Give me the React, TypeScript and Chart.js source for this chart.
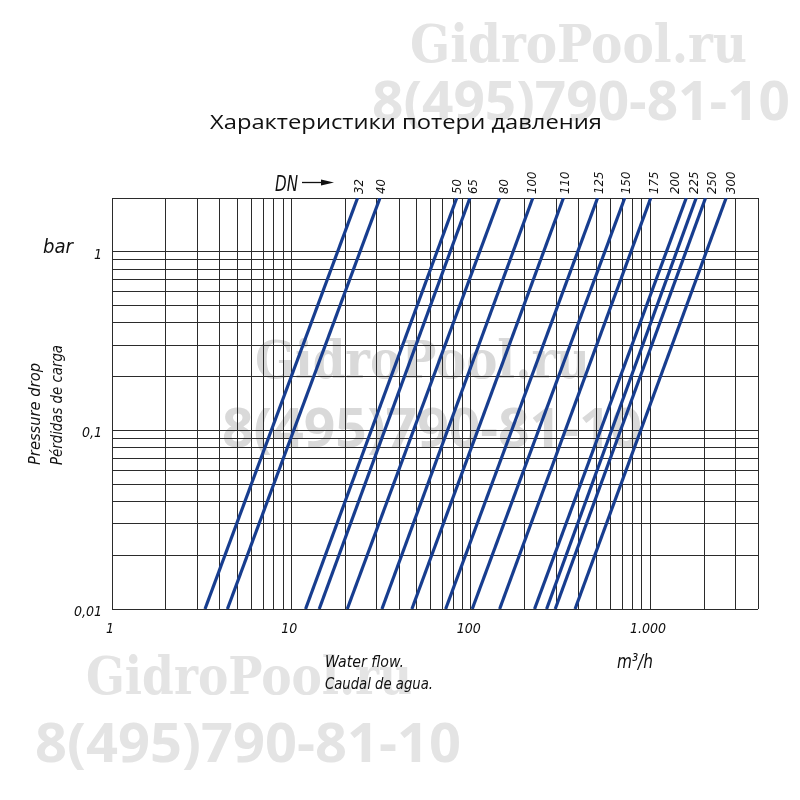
import React, { useEffect, useRef } from 'react';
import { Chart, registerables } from 'chart.js';

Chart.register(...registerables);

// ---- data ----
const dnSizes = ['32', '40', '50', '65', '80', '100', '110', '125', '150', '175', '200', '225', '250', '300'];
// water flow (m³/h) at the lowest pressure drop (0,01 bar)
const flowAtLowDrop = [3.3, 4.4, 12.0, 14.3, 20.5, 32, 47, 72.5, 102, 145, 227, 265, 296, 382];
// water flow (m³/h) at the highest pressure drop (2 bar)
const flowAtHighDrop = [23.4, 31.2, 83.6, 99, 145, 222, 329, 510, 723, 1009, 1592, 1808, 2039, 2656];
const dropLow = 0.01;
const dropHigh = 2;

const flowMin = 1;
const flowMax = 4000;
const flowGrid = [1, 2, 3, 4, 5, 6, 7, 8, 9, 10, 20, 30, 40, 50, 60, 70, 80, 90, 100, 200, 300, 400, 500, 600, 700, 800, 900, 1000, 2000, 3000, 4000];
const dropGrid = [0.01, 0.02, 0.03, 0.04, 0.05, 0.06, 0.07, 0.08, 0.09, 0.1, 0.2, 0.3, 0.4, 0.5, 0.6, 0.7, 0.8, 0.9, 1, 2];
const flowTickValues = [1, 10, 100, 1000];
const flowTickLabels = ['1', '10', '100', '1.000'];
const dropTickValues = [0.01, 0.1, 1];
const dropTickLabels = ['0,01', '0,1', '1'];

const TF = "'Liberation Sans Narrow', 'DejaVu Sans Condensed', 'DejaVu Sans', sans-serif";
const LINE_COLOR = '#173d8f';

function fitText(ctx: CanvasRenderingContext2D, text: string, x: number, y: number, width: number | null, font: string, color: string, rotate = 0, align: CanvasTextAlign = 'left') {
  ctx.save();
  ctx.font = font;
  ctx.fillStyle = color;
  ctx.textBaseline = 'alphabetic';
  const w = ctx.measureText(text).width;
  const s = width ? width / w : 1;
  ctx.translate(x, y);
  if (rotate) ctx.rotate(rotate);
  ctx.scale(s, 1);
  ctx.textAlign = align;
  ctx.fillText(text, 0, 0);
  ctx.restore();
}

const textPlugin = {
  id: 'texts',
  beforeDraw(chart: any) {
    const ctx: CanvasRenderingContext2D = chart.ctx;
    ctx.save();
    ctx.fillStyle = '#ffffff';
    ctx.fillRect(0, 0, chart.width, chart.height);
    ctx.restore();
    const serif = "bold 52px 'DejaVu Serif', 'Liberation Serif', serif";
    const sans = "bold 54px 'Open Sans', 'DejaVu Sans', sans-serif";
    const wm = '#e4e4e4';
    const wmMid = '#d9d9d9';
    fitText(ctx, 'GidroPool.ru', 410, 62, 337, serif, wm);
    fitText(ctx, '8(495)790-81-10', 372, 120, 418, sans, wm);
    fitText(ctx, 'GidroPool.ru', 255, 378, 335, serif, wmMid);
    fitText(ctx, '8(495)790-81-10', 222, 447, 420, sans, wmMid);
    fitText(ctx, 'GidroPool.ru', 86, 694, 326, serif, wm);
    fitText(ctx, '8(495)790-81-10', 35, 762, 426, sans, wm);
  },
  afterDraw(chart: any) {
    const ctx: CanvasRenderingContext2D = chart.ctx;
    const xs = chart.scales.x;
    const ys = chart.scales.y;
    const ink = '#111111';

    fitText(ctx, 'Характеристики потери давления', 210, 129, 392, "20px 'Open Sans', sans-serif", ink);

    // axis tick labels
    flowTickValues.forEach((v, i) => {
      const px = xs.getPixelForValue(v);
      fitText(ctx, flowTickLabels[i], px - 2, 633, null, `italic 14px ${TF}`, ink, 0, 'center');
    });
    dropTickValues.forEach((v, i) => {
      const py = ys.getPixelForValue(v);
      fitText(ctx, dropTickLabels[i], 102, py + 7, null, `italic 14px ${TF}`, ink, 0, 'right');
    });

    fitText(ctx, 'bar', 43, 253, 30, `italic 20px ${TF}`, ink);
    fitText(ctx, 'Pressure drop', 40, 465, 102, `italic 16px ${TF}`, ink, -Math.PI / 2);
    fitText(ctx, 'Pérdidas de carga', 62, 465, 120, `italic 16px ${TF}`, ink, -Math.PI / 2);

    fitText(ctx, 'Water flow.', 325, 667, 79, `italic 16px ${TF}`, ink);
    fitText(ctx, 'Caudal de agua.', 325, 689, 108, `italic 16px ${TF}`, ink);
    fitText(ctx, 'm³/h', 617, 668, 36, `italic 20px ${TF}`, ink);

    // DN arrow
    fitText(ctx, 'DN', 275, 191, 23, `italic 22px ${TF}`, ink);
    ctx.save();
    ctx.strokeStyle = ink;
    ctx.fillStyle = ink;
    ctx.lineWidth = 1.3;
    ctx.beginPath();
    ctx.moveTo(302, 182.5);
    ctx.lineTo(324, 182.5);
    ctx.stroke();
    ctx.beginPath();
    ctx.moveTo(334, 182.5);
    ctx.lineTo(321, 179.5);
    ctx.lineTo(321, 185.5);
    ctx.closePath();
    ctx.fill();
    ctx.restore();

    // DN labels above line tops
    const nudge = [1, 1, 0, 3, 4, -1, 2, 1, 1, 3, -11, -2, 6, 5];
    const top = chart.chartArea.top;
    dnSizes.forEach((dn, i) => {
      const px = xs.getPixelForValue(flowAtHighDrop[i]) + nudge[i];
      fitText(ctx, dn, px + 4, top - 4, null, `italic 13px ${TF}`, ink, -Math.PI / 2);
    });
  },
};

export default function App() {
  const ref = useRef<HTMLCanvasElement>(null);
  useEffect(() => {
    if (!ref.current) return;
    const datasets = dnSizes.map((dn, i) => ({
      label: 'DN ' + dn,
      data: [
        { x: flowAtLowDrop[i], y: dropLow },
        { x: flowAtHighDrop[i], y: dropHigh },
      ],
      borderColor: LINE_COLOR,
      backgroundColor: LINE_COLOR,
      borderWidth: 3.2,
      pointRadius: 0,
      fill: false,
      tension: 0,
    }));
    const chart = new Chart(ref.current, {
      type: 'line',
      data: { datasets },
      options: {
        animation: false,
        responsive: false,
        layout: { padding: { left: 112, top: 198, right: 42, bottom: 191 } },
        plugins: { legend: { display: false }, tooltip: { enabled: false }, title: { display: false } },
        scales: {
          x: {
            type: 'logarithmic',
            min: flowMin,
            max: flowMax,
            afterBuildTicks: (s: any) => { s.ticks = flowGrid.map((v) => ({ value: v })); },
            ticks: { display: false },
            grid: { color: '#2b2b2b', lineWidth: 1, drawTicks: false },
            border: { display: false },
          },
          y: {
            type: 'logarithmic',
            min: dropLow,
            max: dropHigh,
            afterBuildTicks: (s: any) => { s.ticks = dropGrid.map((v) => ({ value: v })); },
            ticks: { display: false },
            grid: { color: '#2b2b2b', lineWidth: 1, drawTicks: false },
            border: { display: false },
          },
        },
      },
      plugins: [textPlugin],
    } as any);
    return () => chart.destroy();
  }, []);
  return (
    <div style={{ position: 'fixed', left: 0, top: 0, width: 800, height: 800, background: '#fff' }}>
      <canvas ref={ref} width={800} height={800} style={{ width: 800, height: 800 }} />
    </div>
  );
}
